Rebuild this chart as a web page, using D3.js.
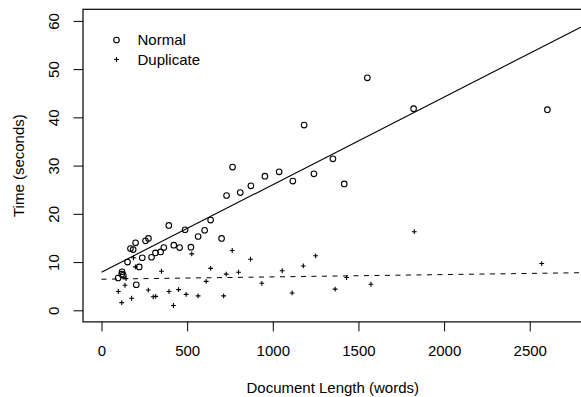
<!DOCTYPE html>
<html>
<head>
<meta charset="utf-8">
<script src="https://cdn.jsdelivr.net/npm/d3@7"></script>
<style>
    body { margin: 0; background: #fff; }
    #chart { width: 581px; height: 397px; }
    text { font-family: "Liberation Sans", Arial, sans-serif; font-size: 15px; fill: #000; }
</style>
</head>
<body>
<div id="chart"></div>
<script>

const normalLength = [97, 120, 127, 118, 152, 169, 185, 199, 203, 220, 238, 257, 274, 292, 315, 345, 364,
    393, 422, 456, 488, 522, 564, 602, 637, 701, 730, 765, 810, 872, 954, 1037, 1117, 1183, 1240, 1351,
    1417, 1552, 1822, 2603];
const normalTime = [6.7, 8.0, 7.3, 7.5, 10.0, 12.8, 12.6, 14.0, 5.3, 9.0, 10.9, 14.4, 14.9, 11.0, 11.9, 12.1, 13.0,
    17.6, 13.5, 13.0, 16.7, 13.1, 15.3, 16.6, 18.7, 14.9, 23.8, 29.7, 24.4, 25.8, 27.8, 28.7, 26.8, 38.4, 28.3, 31.4,
    26.2, 48.2, 41.8, 41.6];

const duplicateLength = [98, 118, 137, 143, 176, 187, 198, 273, 302, 316, 350, 394, 420, 450, 494, 527, 564,
    611, 637, 713, 728, 763, 800, 870, 936, 1055, 1113, 1178, 1250, 1364, 1431, 1573, 1826, 2570];
const duplicateTime = [3.9, 1.6, 5.2, 6.6, 2.5, 10.9, 9.0, 4.2, 2.8, 2.9, 8.1, 3.9, 1.0, 4.3, 3.3, 11.7, 3.0,
    6.0, 8.7, 3.0, 7.5, 12.4, 7.9, 10.6, 5.6, 8.2, 3.6, 9.2, 11.3, 4.4, 6.8, 5.4, 16.3, 9.7];

// intercept, slope
const normalFit = [7.9, 0.01815];
const duplicateFit = [6.45, 0.00048];

const xTicks = [0, 500, 1000, 1500, 2000, 2500];
const yTicks = [0, 10, 20, 30, 40, 50, 60];
const legendLabels = ['Normal', 'Duplicate'];


class ScatterChart {

    constructor() {
        this._normal = normalLength.map((x, i) => ({ x: x, y: normalTime[i] }));
        this._duplicate = duplicateLength.map((x, i) => ({ x: x, y: duplicateTime[i] }));
        this._box = { left: 83, top: 9.3, right: 582.5, bottom: 321.9 };
    }

    renderTo(selector) {
        this._svg = d3.select(selector)
            .append('svg')
            .attr('width', 581)
            .attr('height', 397);

        const x = this._getXScale();
        const y = this._getYScale();
        const box = this._box;

        this._svg.append('defs')
            .append('clipPath')
            .attr('id', 'clip')
            .append('rect')
            .attr('x', box.left)
            .attr('y', box.top)
            .attr('width', box.right - box.left)
            .attr('height', box.bottom - box.top);

        /*
         * Fitted lines, from zero length to the right edge.
         */
        const lines = this._svg.append('g').attr('clip-path', 'url(#clip)');
        const xEnds = [0, x.domain()[1]];

        lines.append('line')
            .attr('x1', x(xEnds[0])).attr('y1', y(normalFit[0] + normalFit[1] * xEnds[0]))
            .attr('x2', x(xEnds[1])).attr('y2', y(normalFit[0] + normalFit[1] * xEnds[1]))
            .attr('stroke', '#000')
            .attr('stroke-width', 1.1);

        lines.append('line')
            .attr('x1', x(xEnds[0])).attr('y1', y(duplicateFit[0] + duplicateFit[1] * xEnds[0]))
            .attr('x2', x(xEnds[1])).attr('y2', y(duplicateFit[0] + duplicateFit[1] * xEnds[1]))
            .attr('stroke', '#000')
            .attr('stroke-width', 1)
            .attr('stroke-dasharray', '5,5.5');

        /*
         * Points.
         */
        this._svg.append('g')
            .selectAll('circle')
            .data(this._normal)
            .join('circle')
            .attr('cx', d => x(d.x))
            .attr('cy', d => y(d.y))
            .attr('r', 2.8)
            .attr('fill', 'none')
            .attr('stroke', '#000')
            .attr('stroke-width', 1.1);

        this._svg.append('g')
            .selectAll('path')
            .data(this._duplicate)
            .join('path')
            .attr('d', d => this._cross(x(d.x), y(d.y)))
            .attr('stroke', '#000')
            .attr('stroke-width', 1.1);

        /*
         * Axes.
         */
        const xAxis = this._svg.append('g')
            .attr('transform', 'translate(0,' + box.bottom + ')')
            .call(d3.axisBottom(x).tickValues(xTicks).tickFormat(d3.format('d')).tickSize(9.5).tickSizeOuter(0));
        xAxis.select('.domain').remove();
        xAxis.selectAll('line').attr('stroke', '#000');
        xAxis.selectAll('text')
            .attr('y', 29)
            .attr('dy', '0.35em');

        const yAxis = this._svg.append('g')
            .attr('transform', 'translate(' + box.left + ',0)')
            .call(d3.axisLeft(y).tickValues(yTicks).tickFormat(d3.format('d')).tickSize(9.5).tickSizeOuter(0));
        yAxis.select('.domain').remove();
        yAxis.selectAll('line').attr('stroke', '#000');
        yAxis.selectAll('text')
            .attr('x', 0)
            .attr('dy', '0.35em')
            .attr('text-anchor', 'middle')
            .attr('transform', 'translate(-29,0) rotate(-90)');
        xAxis.attr('font-size', null).attr('font-family', null);
        yAxis.attr('font-size', null).attr('font-family', null);

        this._svg.append('rect')
            .attr('x', box.left)
            .attr('y', box.top)
            .attr('width', box.right - box.left)
            .attr('height', box.bottom - box.top)
            .attr('fill', 'none')
            .attr('stroke', '#000')
            .attr('stroke-width', 1.2);

        /*
         * Titles.
         */
        this._svg.append('text')
            .attr('x', (box.left + box.right) / 2)
            .attr('y', 388)
            .attr('dy', '0.35em')
            .attr('text-anchor', 'middle')
            .text('Document Length (words)');

        this._svg.append('text')
            .attr('transform', 'translate(18.3,' + ((box.top + box.bottom) / 2) + ') rotate(-90)')
            .attr('dy', '0.35em')
            .attr('text-anchor', 'middle')
            .text('Time (seconds)');

        /*
         * Legend, no frame.
         */
        const legend = this._svg.append('g');
        const rowY = [40, 59.5];

        legend.append('circle')
            .attr('cx', 116.5).attr('cy', rowY[0])
            .attr('r', 2.8)
            .attr('fill', 'none')
            .attr('stroke', '#000')
            .attr('stroke-width', 1.1);
        legend.append('path')
            .attr('d', this._cross(116.5, rowY[1]))
            .attr('stroke', '#000')
            .attr('stroke-width', 1.1);

        legend.selectAll('text')
            .data(legendLabels)
            .join('text')
            .attr('x', 137.5)
            .attr('y', (d, i) => rowY[i])
            .attr('dy', '0.35em')
            .text(d => d);

        return this;
    }

    _cross(cx, cy) {
        const s = 2.4;
        return 'M' + (cx - s) + ',' + cy + 'H' + (cx + s) + 'M' + cx + ',' + (cy - s) + 'V' + (cy + s);
    }

    _getXScale() {
        return d3.scaleLinear()
            .domain([-108, 2808])
            .range([this._box.left, this._box.right]);
    }

    _getYScale() {
        return d3.scaleLinear()
            .domain([-2.4, 62.4])
            .range([this._box.bottom, this._box.top]);
    }
}

new ScatterChart().renderTo('#chart');

</script>
</body>
</html>
